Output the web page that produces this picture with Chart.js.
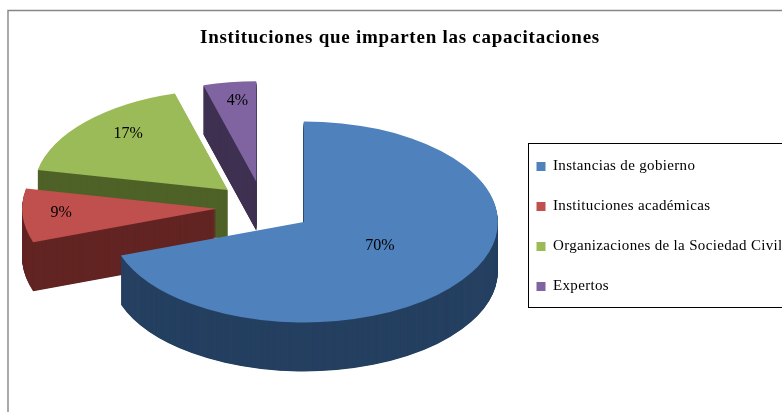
<!DOCTYPE html>
<html><head><meta charset="utf-8">
<style>html,body{margin:0;padding:0;background:#fff}canvas{display:block}</style>
<script src="https://cdn.jsdelivr.net/npm/chart.js@4"></script>
</head><body><canvas id="c" width="782" height="412"></canvas>
<script>
const categories = ['Instancias de gobierno','Instituciones académicas','Organizaciones de la Sociedad Civil','Expertos'];
const shares = [69.6, 8.6, 17.4, 4.4];
const topColors = ['#4F81BD','#C0504D','#9BBB59','#8064A2'];
const wallColors = ['#254061','#632523','#4F6228','#3F3151'];
const titleText = 'Instituciones que imparten las capacitaciones';

// 3D look of the pie
const pieCentre = {x:263, y:207};
const radius = 194, squash = 0.518, depth = 49;
const explode = [50,47,48,49];
const labelRadius = [0.48,0.8,0.7,0.7];
const labelLift = [-4,-1.5,-8,-11];
const paintOrder = [3,2,1,0];
const legendShiftX = -1, legendShiftY = -93;

const pie3d = {
  id:'pie3d',
  beforeDatasetDraw(chart,args){
    const ctx = chart.ctx, arcs = args.meta.data;
    const place = (el,i,dy)=>{
      const mid = (el.startAngle+el.endAngle)/2;
      ctx.translate(pieCentre.x+Math.cos(mid)*explode[i], pieCentre.y+dy+Math.sin(mid)*explode[i]*squash);
      ctx.scale(1,squash);
      ctx.translate(-el.x,-el.y);
    };
    for(const i of paintOrder){
      const el = arcs[i], base = el.options;
      el.options = Object.assign({},base,{backgroundColor:wallColors[i],borderWidth:0});
      for(let d=depth;d>=1;d-=0.5){ ctx.save(); place(el,i,d); el.draw(ctx); ctx.restore(); }
      el.options = Object.assign({},base,{borderWidth:0});
      ctx.save(); place(el,i,0); el.draw(ctx); ctx.restore();
      el.options = base;
    }
    ctx.save();
    ctx.fillStyle='#000'; ctx.font='16px "Liberation Serif"'; ctx.textAlign='center'; ctx.textBaseline='middle';
    arcs.forEach((el,i)=>{
      const mid=(el.startAngle+el.endAngle)/2, r=radius*labelRadius[i];
      const ax=pieCentre.x+Math.cos(mid)*explode[i], ay=pieCentre.y+Math.sin(mid)*explode[i]*squash;
      ctx.fillText(Math.round(shares[i])+'%', ax+Math.cos(mid)*r, ay+Math.sin(mid)*r*squash+labelLift[i]);
    });
    ctx.restore();
    return false;
  },
  beforeDraw(chart){
    const ctx=chart.ctx;
    ctx.save(); ctx.strokeStyle='#868686'; ctx.lineWidth=1.4;
    ctx.beginPath(); ctx.moveTo(8,420); ctx.lineTo(8,10.5); ctx.lineTo(790,10.5); ctx.stroke();
    ctx.restore();
    const t=chart.titleBlock;
    if(!t._spaced){ const d=t.draw; t._spaced=true;
      t.draw=function(){ctx.save();ctx.letterSpacing='0.75px';d.apply(this,arguments);ctx.letterSpacing='0px';ctx.restore();}; }
    const l=chart.legend;
    if(!l._moved){ const d=l.draw; l._moved=true;
      l.draw=function(){ctx.save();ctx.translate(legendShiftX,legendShiftY);ctx.letterSpacing='0.33px';d.apply(this,arguments);ctx.letterSpacing='0px';ctx.restore();}; }
  },
  afterDraw(chart){
    const ctx=chart.ctx;
    ctx.save(); ctx.strokeStyle='#000'; ctx.lineWidth=1;
    ctx.strokeRect(528.5,143.5,270,164);
    ctx.restore();
  }
};

new Chart(document.getElementById('c'),{
  type:'pie',
  data:{labels:categories,datasets:[{data:shares,backgroundColor:topColors,borderWidth:0,radius:radius,clip:false}]},
  options:{
    responsive:false,animation:false,
    layout:{padding:{left:18,right:0,top:0,bottom:0}},
    plugins:{
      tooltip:{enabled:false},
      title:{display:true,text:titleText,color:'#000',font:{family:'"Liberation Serif"',size:19,weight:'bold'},padding:{top:27,bottom:10}},
      legend:{position:'right',align:'end',labels:{boxWidth:9,boxHeight:9,padding:25,color:'#000',font:{family:'"Liberation Serif"',size:15}}}
    }
  },
  plugins:[pie3d]
});
</script></body></html>
